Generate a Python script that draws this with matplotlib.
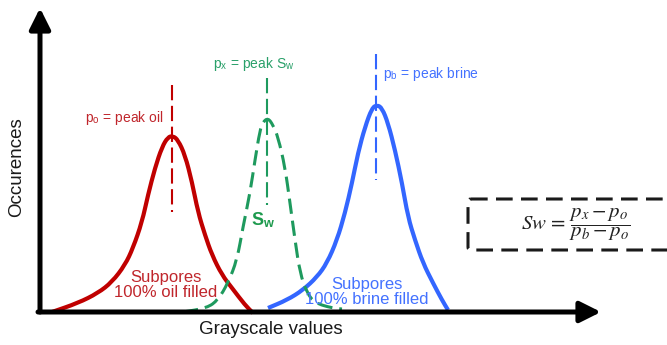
import matplotlib
matplotlib.use("Agg")
import matplotlib.pyplot as plt
from matplotlib.patches import FancyArrowPatch, FancyBboxPatch, PathPatch
from matplotlib.path import Path

plt.rcParams['font.family'] = ['Liberation Sans', 'DejaVu Sans']
plt.rcParams['mathtext.fontset'] = 'stix'
plt.rcParams['lines.scale_dashes'] = False

# Curves (pixel space: x to the right, y downward)
oil_x = [52, 78, 98, 112, 125, 133, 142, 148, 155, 162, 168, 173, 178, 185, 192, 198, 205, 212, 222, 232, 245, 253]
oil_y = [312, 303, 293, 282, 265, 248, 222, 195, 168, 147, 137, 136, 140, 155, 182, 212, 235, 255, 275, 288, 305, 313]

sw_x = [183, 207, 218, 228, 237, 243, 250, 255, 260, 263, 268, 273, 278, 285, 290, 295, 300, 307, 315, 332, 342]
sw_y = [312, 308, 300, 283, 260, 227, 193, 160, 130, 122, 118, 125, 137, 167, 203, 240, 273, 293, 303, 308, 309]

brine_x = [268, 287, 303, 317, 327, 337, 345, 352, 358, 365, 372, 377, 382, 388, 395, 402, 408, 415, 423, 433, 442, 448]
brine_y = [308, 300, 290, 277, 263, 240, 213, 183, 153, 127, 108, 105, 108, 123, 150, 183, 217, 240, 263, 283, 300, 310]

peak_x = {'oil': 172, 'sw': 267, 'brine': 376}

RED = '#C00000'
GREEN = '#1E9A5E'
BLUE = '#3366FF'

fig = plt.figure(figsize=(6.67, 3.45), dpi=100)
ax = fig.add_axes([0, 0, 1, 1])
ax.set_xlim(0, 667)
ax.set_ylim(345, 0)
ax.axis('off')


def smooth_path(xs, ys):
    pts = list(zip(xs, ys))
    verts = [pts[0]]
    codes = [Path.MOVETO]
    mid = lambda a, b: ((a[0] + b[0]) / 2, (a[1] + b[1]) / 2)
    verts.append(mid(pts[0], pts[1]))
    codes.append(Path.LINETO)
    for i in range(1, len(pts) - 1):
        verts += [pts[i], mid(pts[i], pts[i + 1])]
        codes += [Path.CURVE3, Path.CURVE3]
    verts.append(pts[-1])
    codes.append(Path.LINETO)
    return Path(verts, codes)


ax.add_patch(PathPatch(smooth_path(oil_x, oil_y), fill=False, ec=RED, lw=3.0,
                       capstyle='butt', joinstyle='round', zorder=3))
ax.add_patch(PathPatch(smooth_path(brine_x, brine_y), fill=False, ec=BLUE, lw=3.0,
                       capstyle='butt', joinstyle='round', zorder=3))
ax.add_patch(PathPatch(smooth_path(sw_x, sw_y), fill=False, ec=GREEN, lw=2.2,
                       linestyle=(0, (11, 5)), capstyle='butt', zorder=3))

# peak markers
ax.plot([peak_x['oil']] * 2, [85, 212], color=RED, lw=1.5, dashes=(11, 4), zorder=2)
ax.plot([peak_x['sw']] * 2, [78, 205], color=GREEN, lw=1.5, dashes=(11, 4), zorder=2)
ax.plot([peak_x['brine']] * 2, [54, 180], color=BLUE, lw=1.5, dashes=(11, 4), zorder=2)

# axes arrows
for start, end in [((40, 312), (40, 8)), ((38, 312), (601, 312))]:
    ax.add_patch(FancyArrowPatch(start, end, arrowstyle='-|>,head_length=0.9,head_width=0.45',
                                 mutation_scale=14, lw=3.6, color='black', zorder=5,
                                 shrinkA=0, shrinkB=0))

# labels
ax.text(17, 167, 'Occurences', rotation=90, ha='center', va='center', fontsize=13.5, color='#1a1a1a')
ax.text(271, 330, 'Grayscale values', ha='center', va='center', fontsize=13.5, color='#1a1a1a')

ax.text(124, 118, r'p$_\mathregular{o}$ = peak oil', ha='center', va='center', fontsize=10, color='#C0262C')
ax.text(254, 64, r'p$_\mathregular{x}$ = peak S$_\mathregular{w}$', ha='center', va='center', fontsize=10, color='#2AA06A')
ax.text(383, 74, r'p$_\mathregular{b}$ = peak brine', ha='left', va='center', fontsize=10, color='#4472FF')
ax.text(263, 220, r'S$_\mathregular{w}$', ha='center', va='center', fontsize=13, color='#1E9A4E', fontweight='bold')

ax.text(166, 285, 'Subpores\n100% oil filled', ha='center', va='center', fontsize=12,
        color='#C0262C', linespacing=1.05)
ax.text(367, 292, 'Subpores\n100% brine filled', ha='center', va='center', fontsize=12,
        color='#4472FF', linespacing=1.05)

# equation box
ax.add_patch(FancyBboxPatch((468, 199), 260, 51, boxstyle='round,pad=0,rounding_size=3',
                            fill=False, ec='#1a1a1a', lw=2.2, linestyle=(0, (12, 6)), zorder=4))
ax.text(576, 225, r'$Sw\,=\,\dfrac{p_x - p_o}{p_b - p_o}$', ha='center', va='center',
        fontsize=15, color='#222222')

fig.savefig('out.png', dpi=100)
